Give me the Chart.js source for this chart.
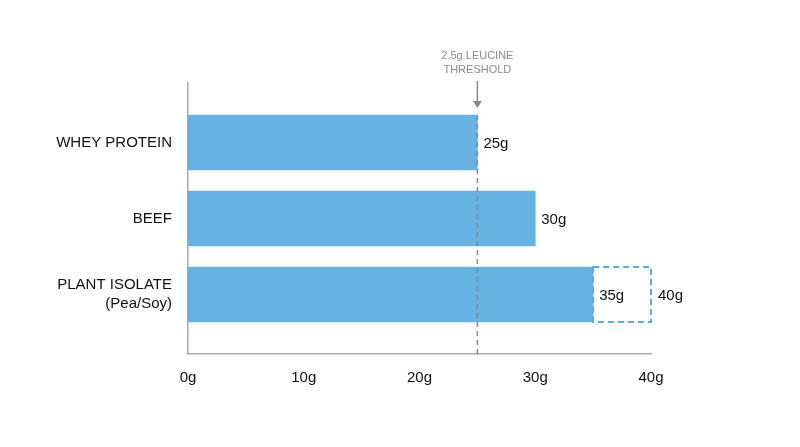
<!DOCTYPE html>
<html>
<head>
<meta charset="utf-8">
<script src="https://cdn.jsdelivr.net/npm/chart.js@4.4.1/dist/chart.umd.min.js"></script>
<style>
  html, body { margin: 0; padding: 0; background: #fff; }
  #wrap { width: 800px; height: 447px; }
</style>
</head>
<body>
<div id="wrap"><canvas id="proteinChart" width="800" height="447"></canvas></div>
<script>
// data
const categories = [["WHEY PROTEIN"], ["BEEF"], ["PLANT ISOLATE", "(Pea/Soy)"]];
const protein = [25, 30, 35];          // grams per serving (solid bars)
const plantExtra = [null, null, [35, 40]]; // dashed extension for plant isolate
const valueLabels = ["25g", "30g", "35g"];
const extraLabels = [null, null, "40g"];
const xTicks = [0, 10, 20, 30, 40];
const thresholdAt = 25;
const thresholdText = ["2.5g LEUCINE", "THRESHOLD"];

const barColor = "#66b3e3";
const axisColor = "#aaaaaa";
const font = "'Liberation Sans', Arial, Helvetica, sans-serif";

// ----- plugin: value labels, dashed box, threshold marker -----
const extrasPlugin = {
  id: "extras",
  afterDatasetsDraw(chart) {
    const { ctx, scales: { x } } = chart;
    const solid = chart.getDatasetMeta(0).data;
    const dashed = chart.getDatasetMeta(1).data;

    ctx.save();
    // dashed outline for the extension
    dashed.forEach((bar, i) => {
      if (!plantExtra[i]) return;
      const { x: xr, base, y, height } = bar.getProps(["x", "base", "y", "height"], true);
      ctx.setLineDash([6, 4]);
      ctx.strokeStyle = "#5aabdd";
      ctx.lineWidth = 2;
      ctx.strokeRect(base, y - height / 2, xr - base, height);
    });
    ctx.setLineDash([]);

    // threshold line + arrow + label
    const tx = x.getPixelForValue(thresholdAt);
    const topBar = solid[0].getProps(["y", "height"], true);
    const lineTop = topBar.y - topBar.height / 2;
    ctx.strokeStyle = "#888";
    ctx.lineWidth = 1.5;
    ctx.setLineDash([5, 4]);
    ctx.beginPath();
    ctx.moveTo(tx, lineTop);
    ctx.lineTo(tx, chart.chartArea.bottom);
    ctx.stroke();
    ctx.setLineDash([]);
    ctx.beginPath();
    ctx.moveTo(tx, lineTop - 34);
    ctx.lineTo(tx, lineTop - 12);
    ctx.stroke();
    ctx.fillStyle = "#888";
    ctx.beginPath();
    ctx.moveTo(tx - 4.5, lineTop - 14);
    ctx.lineTo(tx + 4.5, lineTop - 14);
    ctx.lineTo(tx, lineTop - 7);
    ctx.closePath();
    ctx.fill();
    ctx.font = "11px " + font;
    ctx.textAlign = "center";
    ctx.textBaseline = "middle";
    ctx.fillStyle = "#8a8a8a";
    thresholdText.forEach((t, k) => ctx.fillText(t, tx, lineTop - 59 + k * 14));

    // value labels
    ctx.font = "15px " + font;
    ctx.textAlign = "left";
    ctx.fillStyle = "#111";
    solid.forEach((bar, i) => {
      ctx.fillText(valueLabels[i], bar.x + 6, bar.y + 1);
    });
    dashed.forEach((bar, i) => {
      if (!extraLabels[i]) return;
      ctx.fillText(extraLabels[i], bar.x + 7, bar.y + 1);
    });
    ctx.restore();
  }
};

const ctx = document.getElementById("proteinChart").getContext("2d");
new Chart(ctx, {
  type: "bar",
  data: {
    datasets: [
      {
        label: "Protein",
        data: protein.map((v, i) => ({ x: v, y: i })),
        backgroundColor: barColor,
        borderWidth: 0,
        barThickness: 55,
        grouped: false
      },
      {
        label: "Plant range",
        data: plantExtra.map((v, i) => ({ x: v, y: i })),
        backgroundColor: "rgba(0,0,0,0)",
        borderWidth: 0,
        barThickness: 55,
        grouped: false
      }
    ]
  },
  options: {
    indexAxis: "y",
    responsive: false,
    animation: false,
    devicePixelRatio: 1,
    layout: { padding: { top: 83, right: 149, bottom: 0, left: 0 } },
    plugins: { legend: { display: false }, tooltip: { enabled: false } },
    scales: {
      x: {
        type: "linear",
        min: 0, max: 40,
        offset: false,
        grid: { display: false },
        border: { display: true, color: axisColor, width: 1.5 },
        afterBuildTicks: (s) => { s.ticks = xTicks.map(v => ({ value: v })); },
        afterFit: (s) => { s.height = 93; },
        ticks: {
          color: "#111",
          padding: 7,
          font: { family: font, size: 15 },
          callback: (v) => v + "g",
          maxRotation: 0
        }
      },
      y: {
        type: "linear",
        reverse: true,
        offset: false,
        min: -0.783, max: 2.783,
        grid: { display: false },
        border: { display: true, color: axisColor, width: 1.5 },
        afterBuildTicks: (s) => { s.ticks = categories.map((_, i) => ({ value: i })); },
        afterFit: (s) => { s.width = 188; },
        ticks: {
          color: "#111",
          padding: 8,
          font: { family: font, size: 15, lineHeight: 1.27 },
          callback: (v) => categories[v]
        }
      }
    }
  },
  plugins: [extrasPlugin]
});
</script>
</body>
</html>
